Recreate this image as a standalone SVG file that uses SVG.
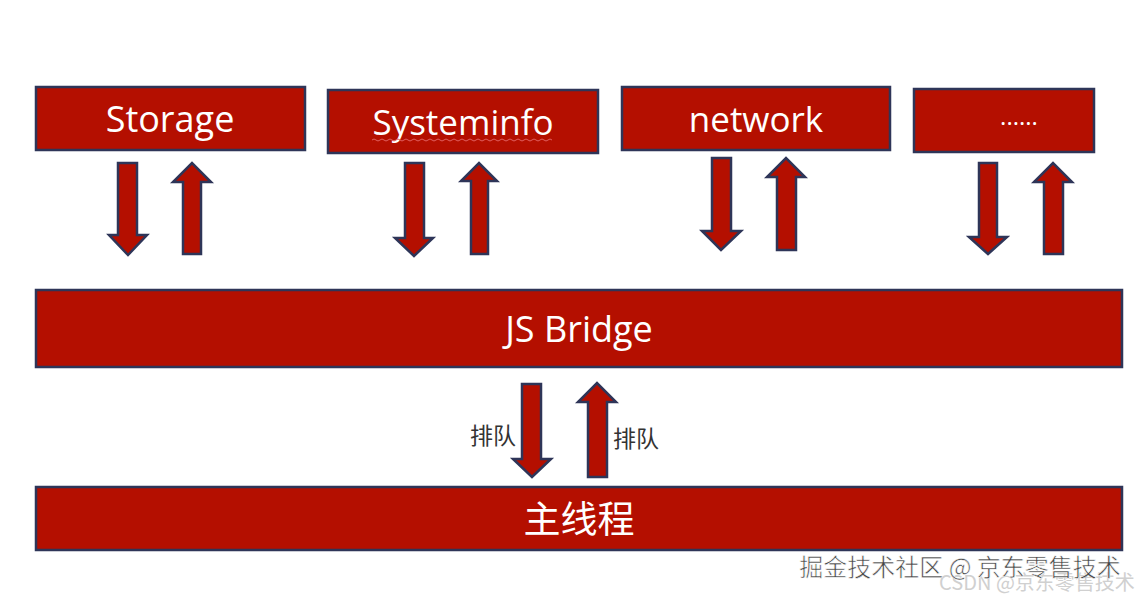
<svg xmlns="http://www.w3.org/2000/svg" width="1146" height="600" viewBox="0 0 1146 600">
<style>
.box{fill:#B40F00;stroke:#2E3558;stroke-width:2.5}
.arr{fill:#B40F00;stroke:#2E3558;stroke-width:2.5;stroke-linejoin:miter}
.lbl{font-family:"Open Sans","Noto Sans","Noto Sans CJK SC",sans-serif;fill:#ffffff;text-anchor:middle}
.q{font-family:"Noto Sans CJK SC",sans-serif;font-size:23px;fill:#333333}
.wm{font-family:"Noto Sans CJK SC",sans-serif}
</style>
<rect width="1146" height="600" fill="#ffffff"/>
<g id="storage"><rect class="box" x="36" y="87" width="269" height="63"/><text class="lbl" x="170" y="132" font-size="36">Storage</text></g>
<g id="systeminfo"><rect class="box" x="328" y="90" width="270" height="63"/><text class="lbl" x="463" y="135" font-size="35">Systeminfo</text>
<path d="M372 140 q2 -2 4 0 t4 0 t4 0 t4 0 t4 0 t4 0 t4 0 t4 0 t4 0 t4 0 t4 0 t4 0 t4 0 t4 0 t4 0 t4 0 t4 0 t4 0 t4 0 t4 0 t4 0 t4 0 t4 0 t4 0 t4 0 t4 0 t4 0 t4 0 t4 0 t4 0 t4 0 t4 0 t4 0 t4 0 t4 0 t4 0 t4 0 t4 0 t4 0 t4 0 t4 0 t4 0 t4 0 t4 0 t4 0" fill="none" stroke="#E06060" stroke-width="1"/></g>
<g id="network"><rect class="box" x="622" y="87" width="268" height="63"/><text class="lbl" x="756" y="132" font-size="35">network</text></g>
<g id="more"><rect class="box" x="914" y="89" width="180" height="63"/><text class="lbl" x="1019" y="125" font-size="24">......</text></g>
<g id="jsbridge"><rect class="box" x="36" y="290" width="1086" height="77"/><text class="lbl" x="579" y="342" font-size="36">JS Bridge</text></g>
<g id="mainthread"><rect class="box" x="36" y="487" width="1086" height="63"/><text class="lbl" x="579" y="533" font-size="37" font-family="Noto Sans CJK SC,sans-serif">主线程</text></g>
<g id="connectors">
<path class="arr" d="M118 163 H137 V235 H147 L128 255 L109 235 H118 Z"/>
<path class="arr" d="M183 254 V182 H173 L192 163 L211 182 H201 V254 Z"/>
<path class="arr" d="M405 163 H424 V238 H433 L414 256 L395 238 H405 Z"/>
<path class="arr" d="M471 254 V181 H461 L479 163 L497 181 H488 V254 Z"/>
<path class="arr" d="M712 158 H731 V231 H741 L721 250 L702 231 H712 Z"/>
<path class="arr" d="M777 250 V177 H767 L786 158 L805 177 H796 V250 Z"/>
<path class="arr" d="M979 163 H997 V237 H1007 L988 254 L969 237 H979 Z"/>
<path class="arr" d="M1044 254 V182 H1034 L1053 163 L1072 182 H1063 V254 Z"/>
<path class="arr" d="M522 384 H541 V459 H551 L532 477 L513 459 H522 Z"/>
<path class="arr" d="M588 477 V402 H578 L597 383 L616 402 H607 V477 Z"/>
<text class="q" x="470" y="444">排队</text>
<text class="q" x="613" y="447">排队</text>
</g>
<text class="wm" x="1037" y="590" font-size="20" fill="#d0d0d0" text-anchor="middle">CSDN @京东零售技术</text>
<text class="wm" x="960" y="576" font-size="24" fill="#444444" stroke="#ffffff" stroke-width="0.6" text-anchor="middle">掘金技术社区 @ 京东零售技术</text>
</svg>
